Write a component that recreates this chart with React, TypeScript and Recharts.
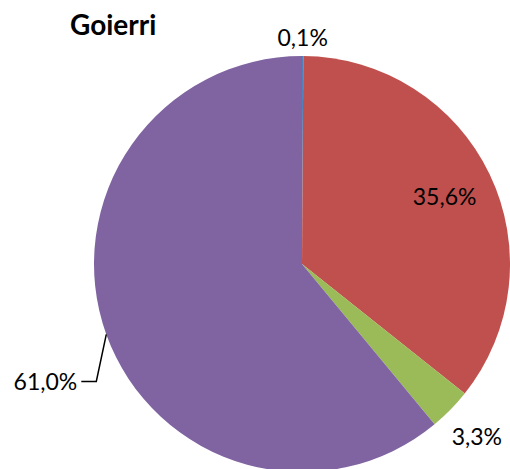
import { PieChart, Pie, Cell } from "recharts"

const names = ["A", "B", "C", "D"]
const values = [0.1, 35.6, 3.3, 61.0]
const colors = ["#4F81BD", "#C0504D", "#9BBB59", "#8064A2"]

const data = names.map((n, i) => ({ name: n, value: values[i] }))

const FONT = "Lato, 'Open Sans', sans-serif"
const RADIAN = Math.PI / 180

const fmt = (v: number) => v.toFixed(1).replace(".", ",") + "%"

const renderLabel = (props: any) => {
  const { cx, cy, midAngle, outerRadius, index, value } = props
  const cos = Math.cos(-midAngle * RADIAN)
  const sin = Math.sin(-midAngle * RADIAN)
  const txt = { fontSize: 23, fill: "#000", fontFamily: FONT }

  if (index === 3) {
    const x0 = cx + outerRadius * cos
    const y0 = cy + outerRadius * sin
    const x1 = x0 - 10
    const y1 = y0 + 47
    const x2 = x1 - 15
    return (
      <g>
        <path d={`M${x0},${y0}L${x1},${y1}L${x2},${y1}`} stroke="#000" strokeWidth={1.5} fill="none" />
        <text x={x2 - 4} y={y1} textAnchor="end" dominantBaseline="central" style={txt}>{fmt(value)}</text>
      </g>
    )
  }
  // inside label for the big red slice, outside for the rest
  const r = index === 1 ? outerRadius * 0.76 : index === 2 ? outerRadius + 37 : outerRadius + 19
  const x = cx + r * cos
  const y = cy + r * sin
  return (
    <text x={x} y={y} textAnchor="middle" dominantBaseline="central" style={txt}>{fmt(value)}</text>
  )
}

export default function App() {
  return (
    <div style={{ position: "relative", width: 510, height: 469, background: "#fff" }}>
      <style>{"body{margin:0}"}</style>
      <div style={{
        position: "absolute", left: 70, top: 7, fontFamily: FONT, fontWeight: 700,
        fontSize: 28, color: "#000", lineHeight: "34px",
      }}>
        Goierri
      </div>
      <PieChart width={510} height={469} margin={{ top: 0, right: 0, bottom: 0, left: 0 }}>
        <Pie
          data={data} dataKey="value" nameKey="name"
          cx={302} cy={264} outerRadius={208}
          startAngle={90} endAngle={-270}
          stroke="none" label={renderLabel} labelLine={false}
          isAnimationActive={false}
        >
          {data.map((d, i) => <Cell key={d.name} fill={colors[i]} />)}
        </Pie>
      </PieChart>
    </div>
  )
}
